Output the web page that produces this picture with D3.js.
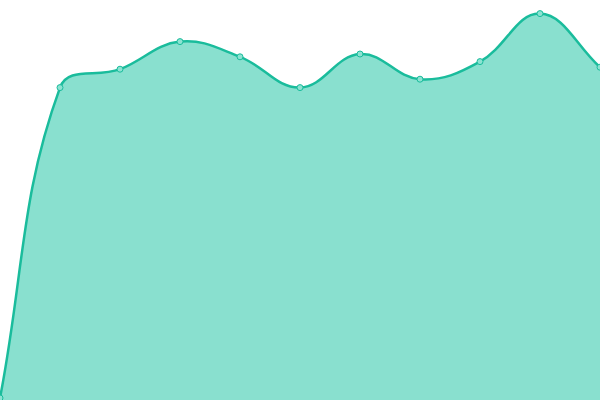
<!DOCTYPE html>
<html>
<head>
<meta charset="utf-8">
<script src="https://cdn.jsdelivr.net/npm/d3@7"></script>
<style>
  html, body { margin: 0; padding: 0; background: #fff; }
  svg { display: block; }
</style>
</head>
<body>
<div id="chart"></div>
<script>
var svgWidth = 600;
var svgHeight = 400;
var tension = 0.4;

// data
var labels = [0, 1, 2, 3, 4, 5, 6, 7, 8, 9, 10];
var values = [0.5, 78.1, 82.7, 89.6, 85.8, 78.1, 86.5, 80.2, 84.6, 96.6, 83.2];

var svg = d3.select("#chart").append("svg")
  .attr("width", svgWidth)
  .attr("height", svgHeight);

var xScale = d3.scaleLinear()
  .domain([0, labels.length - 1])
  .range([0, svgWidth]);

var yScale = d3.scaleLinear()
  .domain([0, 100])
  .range([svgHeight, 0]);

var pts = labels.map(function(l, i) { return [xScale(l), yScale(values[i])]; });

// spline with distance-weighted control points
function splinePath(p, ctx) {
  var n = p.length;
  var cps = p.map(function(m, i) {
    var f = p[Math.max(i - 1, 0)], a = p[Math.min(i + 1, n - 1)];
    var d01 = Math.hypot(m[0] - f[0], m[1] - f[1]);
    var d12 = Math.hypot(a[0] - m[0], a[1] - m[1]);
    var s = d01 + d12 || 1;
    var fa = tension * d01 / s, fb = tension * d12 / s;
    return {
      prev: [m[0] - fa * (a[0] - f[0]), m[1] - fa * (a[1] - f[1])],
      next: [m[0] + fb * (a[0] - f[0]), m[1] + fb * (a[1] - f[1])]
    };
  });
  ctx.moveTo(p[0][0], p[0][1]);
  for (var i = 1; i < n; i++) {
    ctx.bezierCurveTo(cps[i - 1].next[0], cps[i - 1].next[1],
      cps[i].prev[0], cps[i].prev[1], p[i][0], p[i][1]);
  }
  return ctx;
}

var linePath = splinePath(pts, d3.path());
var areaPath = splinePath(pts, d3.path());
areaPath.lineTo(pts[pts.length - 1][0], yScale(0));
areaPath.lineTo(pts[0][0], yScale(0));
areaPath.closePath();

svg.append("path")
  .attr("d", areaPath.toString())
  .attr("fill", "#89e0cf");

svg.append("path")
  .attr("d", linePath.toString())
  .attr("fill", "none")
  .attr("stroke", "#1abc9c")
  .attr("stroke-width", 2.5);

svg.selectAll("circle")
  .data(pts)
  .enter()
  .append("circle")
  .attr("cx", d => d[0])
  .attr("cy", d => d[1])
  .attr("r", 3)
  .attr("fill", "#8ce3d2")
  .attr("stroke", "#1abc9c")
  .attr("stroke-width", 1);
</script>
</body>
</html>
